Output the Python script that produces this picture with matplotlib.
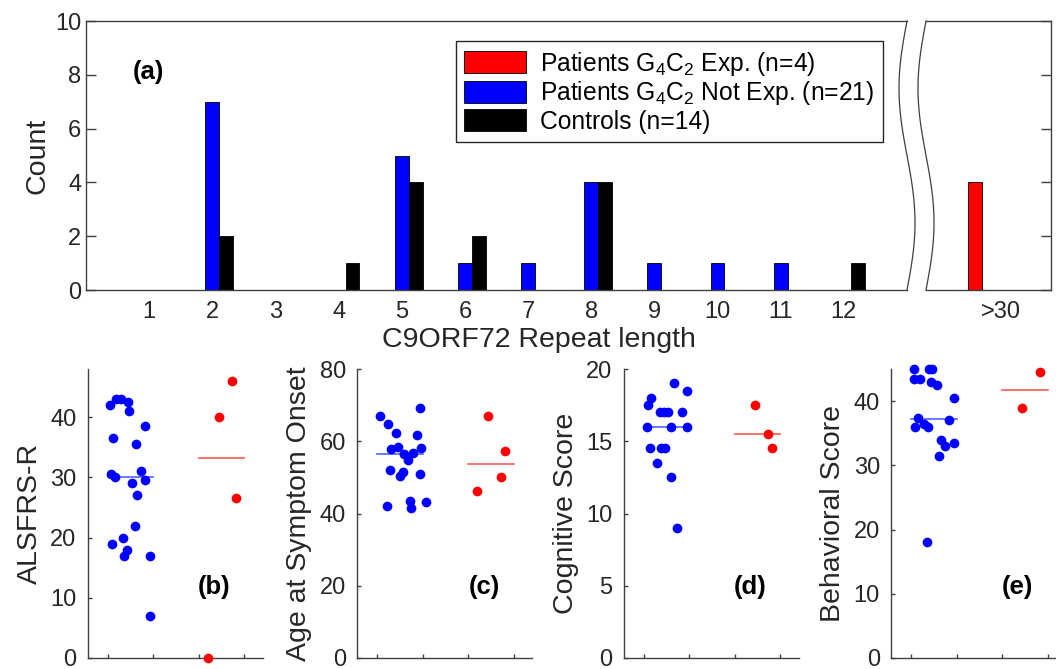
import numpy as np
import matplotlib
matplotlib.use("Agg")
import matplotlib.pyplot as plt
from matplotlib.patches import Patch
from matplotlib.lines import Line2D

plt.rcParams['font.family'] = ['Liberation Sans', 'DejaVu Sans']
plt.rcParams['mathtext.default'] = 'regular'

# ---- (a) histogram data ----
repeat_lengths = [1, 2, 3, 4, 5, 6, 7, 8, 9, 10, 11, 12]
exp_counts = [0, 0, 0, 0, 0, 0, 0, 0, 0, 0, 0, 0]
notexp_counts = [0, 7, 0, 0, 5, 1, 1, 4, 1, 1, 1, 0]
control_counts = [0, 2, 0, 1, 4, 2, 0, 4, 0, 0, 0, 1]
long_position = 30
long_label = '>30'
exp_long = 4
notexp_long = 0
control_long = 0
legend_labels = ['Patients G$_4$C$_2$ Exp. (n=4)',
                 'Patients G$_4$C$_2$ Not Exp. (n=21)',
                 'Controls (n=14)']

# ---- (b)-(e) scatter data (x = jittered group position) ----
alsfrs_notexp_x = [1.05, 1.18, 1.30, 1.45, 1.48, 1.12, 1.62, 1.83, 1.07, 1.16, 1.74,
                   1.54, 1.82, 1.65, 1.61, 1.34, 1.10, 1.42, 1.37, 1.93, 1.93]
alsfrs_notexp = [42.0, 43.1, 43.1, 42.6, 41.0, 36.5, 35.5, 38.5, 30.5, 30.0, 31.0,
                 29.0, 29.5, 27.0, 22.0, 20.0, 19.0, 18.0, 17.0, 17.0, 7.0]
alsfrs_exp_x = [3.74, 3.45, 3.82, 3.21]
alsfrs_exp = [46.0, 40.0, 26.5, 0.0]

age_notexp_x = [1.07, 1.24, 1.42, 1.94, 1.87, 1.30, 1.47, 1.96, 1.59, 1.78, 1.68,
                1.28, 1.58, 1.50, 1.95, 1.22, 1.73, 1.74, 2.07]
age_notexp = [67.0, 64.8, 62.4, 69.3, 61.8, 57.8, 58.5, 58.0, 56.5, 56.8, 54.8,
              52.0, 51.6, 50.4, 50.9, 42.1, 43.5, 41.6, 43.1]
age_exp_x = [3.44, 3.80, 3.72, 3.20]
age_exp = [66.9, 57.3, 50.0, 46.3]

cog_notexp_x = [1.17, 1.10, 1.67, 1.95, 1.36, 1.44, 1.54, 1.84, 1.07, 1.61, 1.95,
                1.15, 1.37, 1.46, 1.30, 1.61, 1.74]
cog_notexp = [18.0, 17.5, 19.0, 18.5, 17.0, 17.0, 17.0, 17.0, 16.0, 16.0, 16.0,
              14.5, 14.5, 14.5, 13.5, 12.5, 9.0]
cog_exp_x = [3.44, 3.73, 3.81]
cog_exp = [17.5, 15.5, 14.5]

beh_notexp_x = [1.07, 1.40, 1.47, 1.07, 1.20, 1.44, 1.56, 1.95, 1.15, 1.84, 1.09,
                1.29, 1.38, 1.66, 1.74, 1.95, 1.62, 1.34]
beh_notexp = [45.0, 45.0, 45.0, 43.4, 43.4, 43.0, 42.5, 40.5, 37.4, 37.0, 36.0,
              36.5, 36.0, 34.0, 33.0, 33.5, 31.5, 18.0]
beh_exp_x = [3.82, 3.43]
beh_exp = [44.5, 39.0]

W, H = 1056, 669
AX_COLOR = '#404040'
TICK_FS = 17
LABEL_FS = 20.5
TAG_FS = 18.5

fig = plt.figure(figsize=(W / 100, H / 100), dpi=100)


def px_axes(left, top, right, bottom):
    # axes from pixel box (origin top-left)
    return fig.add_axes([left / W, 1 - bottom / H, (right - left) / W, (bottom - top) / H])


def style_spines(ax, visible):
    for name, sp in ax.spines.items():
        sp.set_visible(name in visible)
        sp.set_color(AX_COLOR)
        sp.set_linewidth(1.0)


# ================= (a) =================
bw = 0.22
ax_l = px_axes(86, 21, 907, 290)
ax_r = px_axes(926, 21, 1051, 290)

x = np.array(repeat_lengths, dtype=float)
for off, vals, col in [(-bw, exp_counts, 'red'), (0, notexp_counts, 'blue'),
                       (bw, control_counts, 'black')]:
    vals = np.array(vals)
    m = vals > 0
    ax_l.bar(x[m] + off, vals[m], bw, color=col, edgecolor='k', linewidth=0.6)

for off, val, col in [(-bw, exp_long, 'red'), (0, notexp_long, 'blue'),
                      (bw, control_long, 'black')]:
    if val > 0:
        ax_r.bar(long_position + off, val, bw, color=col, edgecolor='k', linewidth=0.6)

ax_l.set_xlim(0, 13)
ax_l.set_ylim(0, 10)
ax_l.set_xticks(repeat_lengths)
ax_l.set_yticks([0, 2, 4, 6, 8, 10])
ax_l.tick_params(axis='x', length=0, pad=8, labelsize=TICK_FS, labelcolor='#262626')
ax_l.tick_params(axis='y', direction='in', length=7, width=1, color=AX_COLOR, pad=3.5,
                 labelsize=TICK_FS, labelcolor='#262626')
style_spines(ax_l, ['left', 'top', 'bottom'])
ax_l.set_ylabel('Count', fontsize=LABEL_FS, color='#262626')
ax_l.yaxis.set_label_coords(-0.043, 0.5)

ax_r.set_xlim(long_position - 1, long_position - 1 + 125 / 63.15)
ax_r.set_ylim(0, 10)
ax_r.set_xticks([long_position + 0.19])
ax_r.set_xticklabels([long_label])
ax_r.set_yticks([0, 2, 4, 6, 8, 10])
ax_r.yaxis.tick_right()
ax_r.tick_params(axis='x', length=0, pad=8, labelsize=TICK_FS, labelcolor='#262626')
ax_r.tick_params(axis='y', direction='in', length=7, width=1, color=AX_COLOR,
                 labelright=False)
style_spines(ax_r, ['right', 'top', 'bottom'])

# wavy axis break
t = np.linspace(0, 1, 120)
for x0 in (907, 926):
    xs = (x0 - 8 * np.sin(2 * np.pi * t)) / 100
    ys = (H - (21 + 269 * t)) / 100
    fig.add_artist(Line2D(xs, ys, color=AX_COLOR, lw=0.9, transform=fig.dpi_scale_trans))

fig.text(539 / W, 1 - 347 / H, 'C9ORF72 Repeat length', ha='center', va='baseline',
         fontsize=LABEL_FS, color='#262626')
ax_l.text(0.0755, 0.81, '(a)', transform=ax_l.transAxes, ha='center', va='center',
          fontsize=TAG_FS, fontweight='bold')

handles = [Patch(facecolor=c, edgecolor='k', linewidth=0.6) for c in ['red', 'blue', 'black']]
leg = ax_l.legend(handles, legend_labels, loc='upper right', bbox_to_anchor=(0.971, 0.926),
                  fontsize=17.7, handlelength=2.5, handleheight=1.0, labelspacing=0.08,
                  handletextpad=0.6, borderpad=0.35, borderaxespad=0, fancybox=False,
                  framealpha=1, edgecolor='#262626')
leg.get_frame().set_linewidth(1.0)

# ================= (b)-(e) =================
panels = [
    ('ALSFRS-R', '(b)', alsfrs_notexp_x, alsfrs_notexp, alsfrs_exp_x, alsfrs_exp, 48, 10, 87.5),
    ('Age at Symptom Onset', '(c)', age_notexp_x, age_notexp, age_exp_x, age_exp, 80, 20, 357),
    ('Cognitive Score', '(d)', cog_notexp_x, cog_notexp, cog_exp_x, cog_exp, 20, 5, 623.6),
    ('Behavioral Score', '(e)', beh_notexp_x, beh_notexp, beh_exp_x, beh_exp, 45, 10, 891),
]

for ylabel, tag, bx, by, rx, ry, ymax, ystep, left in panels:
    ax = px_axes(left, 369, left + 175, 658)
    ax.plot(bx, by, 'o', color='blue', ms=7, mec='none', clip_on=False, zorder=3)
    ax.plot(rx, ry, 'o', color='red', ms=7, mec='none', clip_on=False, zorder=3)
    ax.plot([1, 2], [np.median(by)] * 2, color=(0.3, 0.4, 1.0), lw=1.2, zorder=2)
    ax.plot([3, 4], [np.median(ry)] * 2, color=(1.0, 0.35, 0.35), lw=1.2, zorder=2)
    ax.set_xlim(0.56, 4.4)
    ax.set_ylim(0, ymax)
    ax.set_xticks([1, 2, 3, 4])
    ax.set_xticklabels([])
    ax.set_yticks(np.arange(0, ymax + 0.01, ystep))
    ax.tick_params(direction='in', length=3, width=1, color=AX_COLOR)
    ax.tick_params(axis='y', pad=8, labelsize=TICK_FS, labelcolor='#262626')
    style_spines(ax, ['left', 'bottom'])
    ax.set_ylabel(ylabel, fontsize=LABEL_FS, color='#262626')
    ax.yaxis.set_label_coords(-0.255, 0.5)
    ax.text(0.725, 0.247, tag, transform=ax.transAxes, ha='center', va='center',
            fontsize=TAG_FS, fontweight='bold')

fig.savefig('out.png', dpi=100)
